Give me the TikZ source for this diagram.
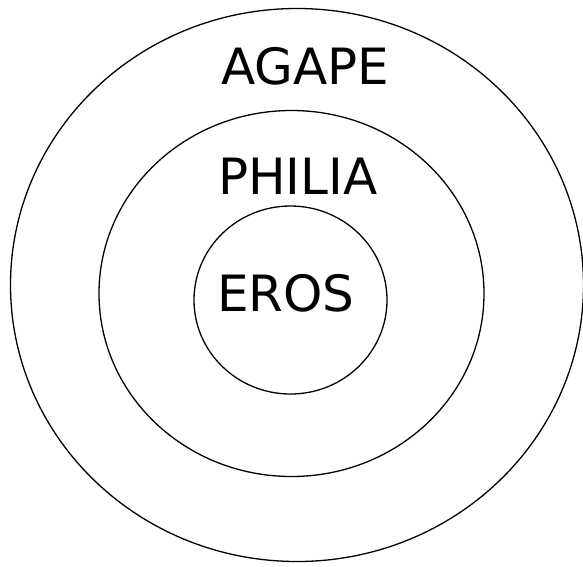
\documentclass[tikz,border=0pt]{standalone}
\usepackage{fontspec}
\setmainfont{DejaVu Sans}
\begin{document}
\begin{tikzpicture}[x=1pt,y=-1pt,
  ring/.style={draw=black,line width=1.3pt},
  lbl/.style={anchor=base west,inner sep=0pt,font=\fontsize{50}{60}\selectfont}]
\useasboundingbox (0,0) rectangle (583,566);
\draw[ring] (297,285) ellipse [x radius=286.5, y radius=276.5];
\draw[ring] (291.5,293.5) ellipse [x radius=192.5, y radius=183];
\draw[ring] (290.5,300) ellipse [x radius=96.5, y radius=94];
\node[lbl] (agape) at (221,84) {AGAPE};
\node[lbl] (philia) at (218,194) {PHILIA};
\node[lbl] (eros) at (217,311) {EROS};
\end{tikzpicture}
\end{document}
